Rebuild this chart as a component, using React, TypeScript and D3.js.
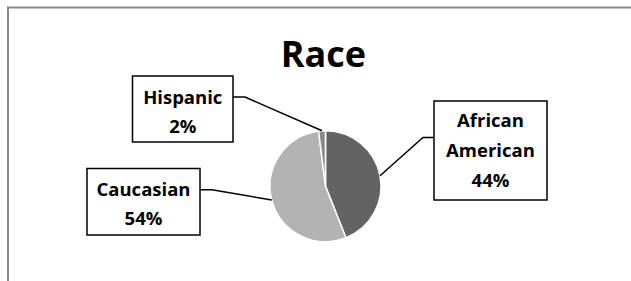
import React from 'react';
import * as d3 from 'd3';

const categories = ["African American", "Caucasian", "Hispanic"];
const values = [44, 54, 2];
const sliceColors = ["#636363", "#b3b3b3", "#8a8a8a"];
const title = "Race";

const width = 631;
const height = 281;
const cx = 325.5;
const cy = 186.2;
const radius = 55.5;
const fontFamily = "'Open Sans', Lato, sans-serif";

type LabelBox = {x: number, y: number, w: number, h: number, lines: string[], baselines: number[], side: "left" | "right"};

// label box layout, same order as categories
const boxes: LabelBox[] = [
  {x: 434, y: 101, w: 113, h: 99, lines: ["African", "American"], baselines: [26, 56, 86], side: "left"},
  {x: 87, y: 168.5, w: 113, h: 66.5, lines: ["Caucasian"], baselines: [27, 56], side: "right"},
  {x: 132.5, y: 76, w: 100.5, h: 66, lines: ["Hispanic"], baselines: [27.5, 56.5], side: "right"},
];

const App: React.FC = () => {
  const total = d3.sum(values);
  const pie = d3.pie<number>().sort(null).value(d => d);
  const arcs = pie(values);
  const arcGen = d3.arc<d3.PieArcDatum<number>>().innerRadius(0).outerRadius(radius);

  return (
    <svg width={width} height={height} style={{position: "absolute", left: 0, top: 0, display: "block", background: "white"}}>
      <rect x={8} y={7.5} width={700} height={400} fill="white" stroke="#898989" strokeWidth={2}/>
      <text x={cx - 2} y={66.5} textAnchor="middle" fontFamily={fontFamily} fontWeight="bold" fontSize={36} fill="black">{title}</text>
      <g transform={`translate(${cx}, ${cy})`}>
        {arcs.map((a, i) => (
          <path key={i} d={arcGen(a) || ""} fill={sliceColors[i]} stroke="white" strokeWidth={1.5}/>
        ))}
      </g>
      {arcs.map((a, i) => {
        const b = boxes[i];
        const mid = (a.startAngle + a.endAngle) / 2;
        const px = cx + radius * Math.sin(mid);
        const py = cy - radius * Math.cos(mid);
        const ly = b.y + b.h / 2 + (i === 0 ? -13 : -12);
        const ex = b.side === "left" ? b.x : b.x + b.w;
        const elbowX = b.side === "left" ? ex - 11 : ex + 12;
        const pct = Math.round(values[i] / total * 100) + "%";
        const lines = [...b.lines, pct];
        return (
          <g key={categories[i]}>
            <polyline points={`${ex},${ly} ${elbowX},${ly} ${px},${py}`} fill="none" stroke="black" strokeWidth={1.5}/>
            <rect x={b.x} y={b.y} width={b.w} height={b.h} fill="white" stroke="black" strokeWidth={1.5}/>
            {lines.map((t, j) => (
              <text key={j} x={b.x + b.w / 2} y={b.y + b.baselines[j]} textAnchor="middle" fontFamily={fontFamily} fontWeight="bold" fontSize={18.5} fill="black">{t}</text>
            ))}
          </g>
        );
      })}
    </svg>
  );
};

export default App;
